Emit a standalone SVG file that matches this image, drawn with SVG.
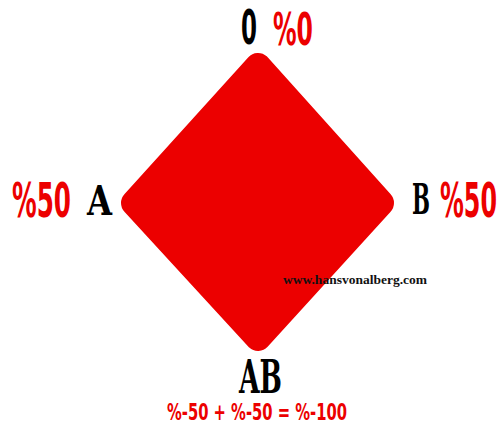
<svg xmlns="http://www.w3.org/2000/svg" width="499" height="432" viewBox="0 0 499 432">
<style>
.red{fill:#ec0000;font-family:"DejaVu Sans Condensed","DejaVu Sans",sans-serif;font-weight:bold}
.blk{fill:#000;font-family:"DejaVu Serif Condensed","DejaVu Serif",serif;font-weight:bold}
.zero{fill:#000;font-family:"DejaVu Sans Condensed","DejaVu Sans",sans-serif;font-weight:bold}
</style>
<rect width="499" height="432" fill="#fff"/>
<g id="diamond">
<polygon points="258,66 381,203 258,338 134,203" fill="#ec0000" stroke="#ec0000" stroke-width="26" stroke-linejoin="round"/>
</g>
<g id="top">
<text class="zero" x="241" y="44" font-size="48" textLength="16" lengthAdjust="spacingAndGlyphs">0</text>
<text class="red" x="273" y="45" font-size="44" textLength="40" lengthAdjust="spacingAndGlyphs">%0</text>
</g>
<g id="left">
<text class="red" transform="scale(1,1.78)" x="12" y="121.9" font-size="27" textLength="59" lengthAdjust="spacingAndGlyphs">%50</text>
<text class="blk" x="87" y="215" font-size="41" textLength="25" lengthAdjust="spacingAndGlyphs">A</text>
</g>
<g id="right">
<text class="blk" transform="scale(1,1.4)" x="412" y="152.9" font-size="30" textLength="18" lengthAdjust="spacingAndGlyphs">B</text>
<text class="red" transform="scale(1,1.78)" x="440" y="121.9" font-size="27" textLength="57" lengthAdjust="spacingAndGlyphs">%50</text>
</g>
<g id="bottom">
<text class="blk" x="239" y="393" font-size="47" textLength="43" lengthAdjust="spacingAndGlyphs">AB</text>
<text class="red" x="167" y="420" font-size="23" textLength="180" lengthAdjust="spacingAndGlyphs">%-50 + %-50 = %-100</text>
</g>
<g id="connectors"/>
<text x="283" y="284" font-family="'Liberation Serif',serif" font-weight="bold" font-size="12" textLength="144" lengthAdjust="spacingAndGlyphs" fill="#111">www.hansvonalberg.com</text>
</svg>
